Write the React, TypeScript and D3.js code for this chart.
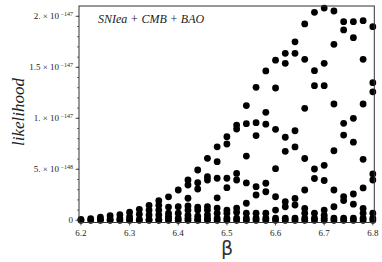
import * as d3 from "d3";

// β sample points (step 0.02)
const beta = [
  6.2, 6.22, 6.24, 6.26, 6.28, 6.3, 6.32, 6.34, 6.36, 6.38, 6.4, 6.42, 6.44, 6.46, 6.48, 6.5,
  6.52, 6.54, 6.56, 6.58, 6.6, 6.62, 6.64, 6.66, 6.68, 6.7, 6.72, 6.74, 6.76, 6.78, 6.8,
];

// likelihood values at each β, in units of 1e-148
const likelihoodByBeta = [
  [0, 0.1],
  [0, 0.15],
  [0, 0.1, 0.3],
  [0, 0.1, 0.45],
  [0, 0.15, 0.55],
  [0, 0.1, 0.35, 0.8],
  [0, 0.1, 0.6, 1.08],
  [0, 0.1, 0.52, 1.0, 1.47],
  [0, 0.1, 0.52, 1.0, 1.47, 1.92],
  [0, 0.2, 0.4, 0.7, 1.3, 2.3],
  [0, 0.2, 0.7, 1.33, 2.97],
  [0, 0.2, 0.5, 1.0, 1.4, 2.16, 3.46, 3.95],
  [0, 0.1, 0.4, 1.0, 1.3, 3.07, 3.69, 4.93],
  [0, 0.2, 0.52, 1.0, 1.33, 3.95, 4.27, 6.08],
  [0, 0.2, 0.7, 1.2, 2.2, 4.12, 5.75, 7.2],
  [0, 0.2, 0.7, 1.0, 3.2, 4.12, 7.48, 8.2],
  [0, 0.2, 0.8, 1.2, 3.95, 4.6, 8.95, 9.34],
  [0, 0.2, 0.7, 1.67, 3.66, 6.3, 9.47, 11.25],
  [0, 0.2, 0.7, 2.48, 3.3, 8.31, 9.57, 13.04],
  [0, 0.2, 0.7, 2.8, 3.63, 9.42, 10.59, 14.64],
  [0, 0.2, 1.0, 2.31, 5.06, 8.92, 12.97, 15.7],
  [0, 0.2, 1.33, 1.82, 6.76, 8.14, 15.39, 16.37],
  [0, 0.2, 1.5, 2.14, 7.19, 8.78, 16.37, 17.5],
  [0, 0.2, 0.7, 1.16, 2.97, 6.06, 10.98, 15.78, 19.25],
  [0, 0.2, 0.7, 4.1, 5.03, 13.2, 14.67, 20.39],
  [0, 0.2, 0.5, 1.0, 3.9, 5.39, 13.2, 15.39, 20.81],
  [0, 0.2, 1.33, 2.97, 6.82, 11.4, 17.25, 20.52],
  [0, 0.2, 1.94, 2.33, 8.36, 9.51, 18.66, 19.47],
  [0, 0.2, 1.58, 2.58, 7.66, 10.0, 17.9, 19.47],
  [0, 0.2, 0.7, 1.16, 3.17, 5.98, 11.4, 15.78, 19.57],
  [0, 0.2, 0.7, 3.95, 4.54, 12.6, 13.49, 18.98],
];

const unit = 1e-148;

const xTicks = [6.2, 6.3, 6.4, 6.5, 6.6, 6.7, 6.8];
const yTicks = [
  { v: 0, main: "0", exp: "" },
  { v: 5e-148, main: "5. × 10", exp: "−148" },
  { v: 1e-147, main: "1. × 10", exp: "−147" },
  { v: 1.5e-147, main: "1.5 × 10", exp: "−147" },
  { v: 2e-147, main: "2. × 10", exp: "−147" },
];

const W = 382;
const H = 262;
const left = 79;
const right = 374.3;
const top = 6;
const bottom = 222.5;

const serif = { fontFamily: "Liberation Serif, Times New Roman, DejaVu Serif, serif" };

export default function App() {
  const x = d3.scaleLinear().domain([6.196, 6.803]).range([left, right]);
  const y = d3.scaleLinear().domain([-0.216e-148, 2.101e-147]).range([bottom, top]);

  const points = beta.flatMap((b, i) =>
    likelihoodByBeta[i].map((v) => ({ b, v: v * unit }))
  );

  const minorX = d3.range(6.2, 6.801, 0.02);
  const minorY = d3.range(0, 2.1e-147, 1e-148);

  return (
    <svg
      width={W}
      height={H}
      style={{ position: "absolute", left: 0, top: 0, background: "#fff" }}
    >
      <g fill="#000">
        {points.map((p, i) => (
          <circle key={i} cx={x(p.b)} cy={y(p.v)} r={3.4} />
        ))}
      </g>

      {/* frame */}
      <rect
        x={left}
        y={top}
        width={right - left}
        height={bottom - top}
        fill="none"
        stroke="#333"
        strokeWidth={1}
      />

      {/* ticks */}
      <g stroke="#333" strokeWidth={0.8}>
        {minorX.map((t, i) => (
          <line key={i} x1={x(t)} x2={x(t)} y1={bottom} y2={bottom + 1.5} />
        ))}
        {xTicks.map((t) => (
          <line key={t} x1={x(t)} x2={x(t)} y1={bottom} y2={bottom + 3} />
        ))}
        {minorY.map((t, i) => (
          <line key={i} x1={left} x2={left - 1.8} y1={y(t)} y2={y(t)} />
        ))}
        {yTicks.map((t) => (
          <line key={t.v} x1={left} x2={left - 3.5} y1={y(t.v)} y2={y(t.v)} />
        ))}
      </g>

      <g style={serif} fontSize={9} fill="#222">
        {xTicks.map((t) => (
          <text key={t} x={x(t)} y={bottom + 13.5} textAnchor="middle">
            {t.toFixed(1)}
          </text>
        ))}
        {yTicks.map((t) => (
          <text key={t.v} x={left - 6} y={y(t.v) + 3} textAnchor="end">
            {t.main}
            {t.exp && (
              <tspan fontSize={6} dy={-3.5}>
                {" " + t.exp}
              </tspan>
            )}
          </text>
        ))}
      </g>

      <text x={98} y={22.5} style={serif} fontStyle="italic" fontSize={12} fill="#222">
        SNIea + CMB + BAO
      </text>

      <text
        x={227}
        y={254.5}
        textAnchor="middle"
        fontFamily="DejaVu Sans, sans-serif"
        fontSize={19}
        fill="#333"
      >
        β
      </text>

      <text
        transform={`translate(24,112) rotate(-90)`}
        textAnchor="middle"
        style={serif}
        fontStyle="italic"
        fontSize={17}
        fill="#222"
      >
        likelihood
      </text>
    </svg>
  );
}
